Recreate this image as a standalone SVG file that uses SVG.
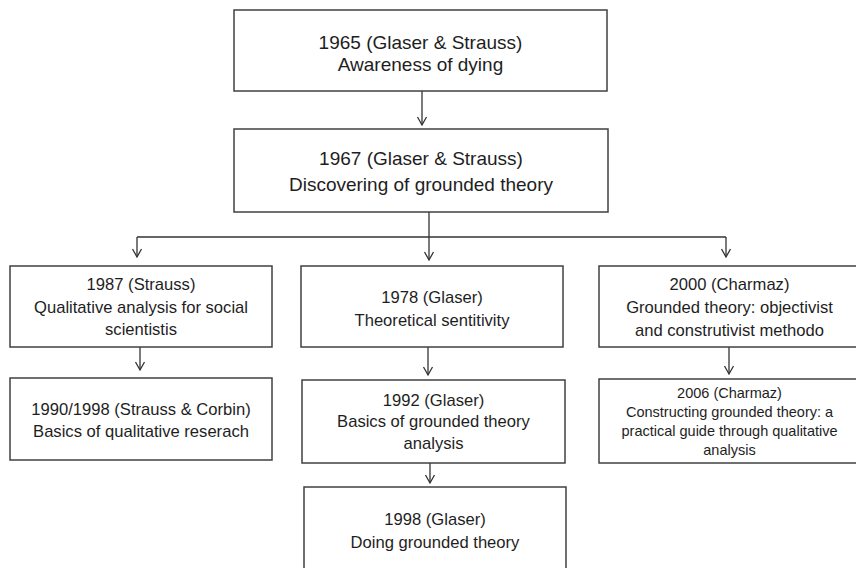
<svg xmlns="http://www.w3.org/2000/svg" width="856" height="568" viewBox="0 0 856 568">
  <style>
    .box { fill: #ffffff; stroke: #404040; stroke-width: 1.5; }
    .t { font-family: "Liberation Sans", Arial, sans-serif; fill: #1e1e1e; text-anchor: middle; }
    .lg { font-size: 19px; }
    .md { font-size: 16.6px; }
    .sm { font-size: 14.5px; }
    .wire { fill: none; stroke: #333333; stroke-width: 1.3; }
  </style>
  <defs>
    <!-- open V arrowhead, tip at the line end -->
    <marker id="head" markerUnits="userSpaceOnUse" markerWidth="12" markerHeight="12" viewBox="-10 -6 12 12" refX="0" refY="0" orient="auto">
      <path d="M-8,-4.5 L0,0 L-8,4.5" fill="none" stroke="#333333" stroke-width="1.3"/>
    </marker>
  </defs>
  <rect width="856" height="568" fill="#ffffff"/>

  <!-- connectors -->
  <g id="connectors" class="wire">
    <path d="M422,91 V125" marker-end="url(#head)"/>
    <path d="M429,212 V237"/>
    <path d="M137,237 H726"/>
    <path d="M137,237 V257" marker-end="url(#head)"/>
    <path d="M429,237 V260" marker-end="url(#head)"/>
    <path d="M726,237 V257" marker-end="url(#head)"/>
    <path d="M140,347 V370" marker-end="url(#head)"/>
    <path d="M428,347 V375" marker-end="url(#head)"/>
    <path d="M430,463 V483" marker-end="url(#head)"/>
    <path d="M729,347 V374" marker-end="url(#head)"/>
  </g>

  <g id="n1965">
    <rect class="box" x="234" y="10" width="373" height="81"/>
    <text class="t lg" x="420.5" y="48.5">1965 (Glaser &amp; Strauss)</text>
    <text class="t lg" x="420.5" y="70.5">Awareness of dying</text>
  </g>

  <g id="n1967">
    <rect class="box" x="234" y="129" width="374" height="83"/>
    <text class="t lg" x="421" y="164.5">1967 (Glaser &amp; Strauss)</text>
    <text class="t lg" x="421" y="190.5">Discovering of grounded theory</text>
  </g>

  <g id="n1987">
    <rect class="box" x="10" y="266" width="262" height="81"/>
    <text class="t md" x="141" y="289.5">1987 (Strauss)</text>
    <text class="t md" x="141" y="312.5">Qualitative analysis for social</text>
    <text class="t md" x="141" y="334.5">scientistis</text>
  </g>

  <g id="n1978">
    <rect class="box" x="301" y="266" width="262" height="81"/>
    <text class="t md" x="432" y="302.5">1978 (Glaser)</text>
    <text class="t md" x="432" y="325.5">Theoretical sentitivity</text>
  </g>

  <g id="n2000">
    <rect class="box" x="599" y="266" width="262" height="81"/>
    <text class="t md" x="729.5" y="289.5">2000 (Charmaz)</text>
    <text class="t md" x="729.5" y="312.5">Grounded theory: objectivist</text>
    <text class="t md" x="729.5" y="335.5">and construtivist methodo</text>
  </g>

  <g id="n1990">
    <rect class="box" x="10" y="378" width="262" height="82"/>
    <text class="t md" x="141" y="414.5">1990/1998 (Strauss &amp; Corbin)</text>
    <text class="t md" x="141" y="436.5">Basics of qualitative reserach</text>
  </g>

  <g id="n1992">
    <rect class="box" x="302" y="380" width="263" height="83"/>
    <text class="t md" x="433.5" y="405.5">1992 (Glaser)</text>
    <text class="t md" x="433.5" y="426.5">Basics of grounded theory</text>
    <text class="t md" x="433.5" y="448.5">analysis</text>
  </g>

  <g id="n2006">
    <rect class="box" x="599" y="379" width="262" height="84"/>
    <text class="t sm" x="729.5" y="398">2006 (Charmaz)</text>
    <text class="t sm" x="729.5" y="417">Constructing grounded theory: a</text>
    <text class="t sm" x="729.5" y="436">practical guide through qualitative</text>
    <text class="t sm" x="729.5" y="455">analysis</text>
  </g>

  <g id="n1998">
    <rect class="box" x="304" y="487" width="262" height="90"/>
    <text class="t md" x="435" y="524.5">1998 (Glaser)</text>
    <text class="t md" x="435" y="547.5">Doing grounded theory</text>
  </g>
</svg>
